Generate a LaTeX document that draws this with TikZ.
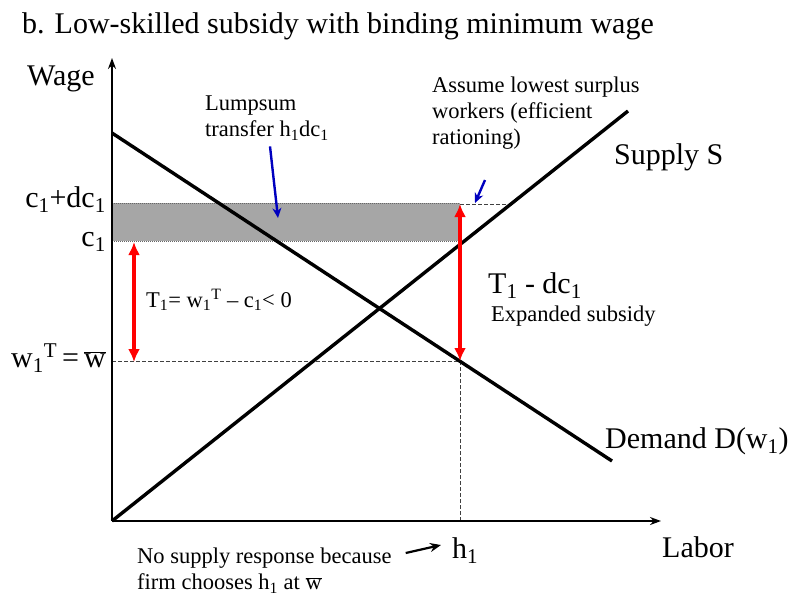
\documentclass[tikz,border=0pt]{standalone}
\usepackage{fontspec}
\setmainfont{Liberation Serif}
\usetikzlibrary{arrows.meta, positioning, calc}

\tikzset{
  curve/.style={line width=3.4pt, black},
  axis/.style={line width=2pt, black, -{Stealth[length=11pt,width=8pt]}},
  guide/.style={line width=0.8pt, black!75, dash pattern=on 3.5pt off 2.5pt},
  gap/.style={red, line width=3.8pt, {Latex[length=13pt,width=12pt]}-{Latex[length=13pt,width=12pt]}},
  pointer/.style={blue!75!black, line width=2.4pt, -{Stealth[length=10pt,width=9pt]}},
  lbl/.style={font=\fontsize{22.5}{26}\selectfont, inner sep=0pt, align=left},
  biglbl/.style={font=\fontsize{30}{34}\selectfont, inner sep=0pt},
}
\newcommand{\wbar}{$\overline{\hbox{w}}$}

\begin{document}
\begin{tikzpicture}[x=1pt, y=-1pt]
  \useasboundingbox (0,0) rectangle (792,598);

  % --- title ---
  \node[biglbl, anchor=base west] (title) at (22,33) {b. Low-skilled subsidy with binding minimum wage};

  % --- key points ---
  \coordinate (O) at (112,521);
  \coordinate (ytip) at (112,58);
  \coordinate (xtip) at (661,521);
  \coordinate (dA) at (112,133);
  \coordinate (dB) at (612,461);
  \coordinate (sB) at (628,111);
  \coordinate (hw) at (460,361);
  \coordinate (hc) at (460,204);
  \coordinate (hx) at (460,521);
  \coordinate (wl) at (112,361);
  \coordinate (cend) at (508,204);

  % --- shaded band between c1 and c1+dc1 ---
  \fill[black!35] (112,203) rectangle (460,241);
  \draw[black!60, line width=0.7pt, dash pattern=on 1pt off 1pt] (112,203) -- (460,203);
  \draw[black!60, line width=0.7pt, dash pattern=on 1pt off 1pt] (112,241) -- (460,241);

  % --- guide lines ---
  \draw[guide] (hc) -- (cend);
  \draw[guide] (wl) -- (hw);
  \draw[guide] (hw) -- (hx);

  % --- axes ---
  \draw[axis] (O) -- (ytip);
  \draw[axis] (O) -- (xtip);
  \node[biglbl, anchor=base west] (wage) at (27,85) {Wage};
  \node[biglbl, anchor=base west] (labor) at (662,557) {Labor};

  % --- demand and supply ---
  \draw[curve] (dA) -- (dB);
  \draw[curve] (O) -- (sB);
  \node[biglbl, anchor=base west] (supply) at (614,164) {Supply S};
  \node[biglbl, anchor=base west] (demand) at (605,448) {Demand D(w\textsubscript{1})};

  % --- wage levels ---
  \node[biglbl, anchor=base east] (cdc) at (106,207) {c\textsubscript{1}+dc\textsubscript{1}};
  \node[biglbl, anchor=base east] (cone) at (106,246) {c\textsubscript{1}};
  \node[biglbl, anchor=base east] (wmin) at (106,367) {w\textsubscript{1}\textsuperscript{T}\,=\,\wbar};

  % --- subsidy gaps ---
  \coordinate (gtop) at (134,242);
  \coordinate (gbot) at (134,362);
  \draw[gap] (gtop) -- (gbot);
  \draw[gap] (hc) -- (hw);
  \node[lbl, anchor=base west] (tone) at (146,307) {T\textsubscript{1}= w\textsubscript{1}\textsuperscript{T} – c\textsubscript{1}< 0};
  \node[biglbl, anchor=base west] (tdc) at (488,293) {T\textsubscript{1} - dc\textsubscript{1}};
  \node[lbl, anchor=base west] (expand) at (491,321) {Expanded subsidy};

  % --- notes ---
  \node[lbl, anchor=north west] (lump) at (205,96) {Lumpsum\\transfer h\textsubscript{1}dc\textsubscript{1}};
  \coordinate (lumpend) at (278,218);
  \draw[pointer] ($(lump.south west)+(65,6)$) -- (lumpend);

  \node[lbl, anchor=north west] (assume) at (432,77) {Assume lowest surplus\\workers (efficient\\rationing)};
  \coordinate (assumeend) at (475,203);
  \draw[pointer] (485,180) -- (assumeend);

  % --- labor level h1 ---
  \node[biglbl, anchor=base west] (hone) at (452,558) {h\textsubscript{1}};
  \node[lbl, anchor=north west] (nosup) at (137,548) {No supply response because\\firm chooses h\textsubscript{1} at \wbar};
  \draw[line width=2.2pt, -{Stealth[length=11pt,width=9pt]}] ($(nosup.north east)+(14,5)$) -- ($(hone.base west)+(-11,-13)$);
\end{tikzpicture}
\end{document}
